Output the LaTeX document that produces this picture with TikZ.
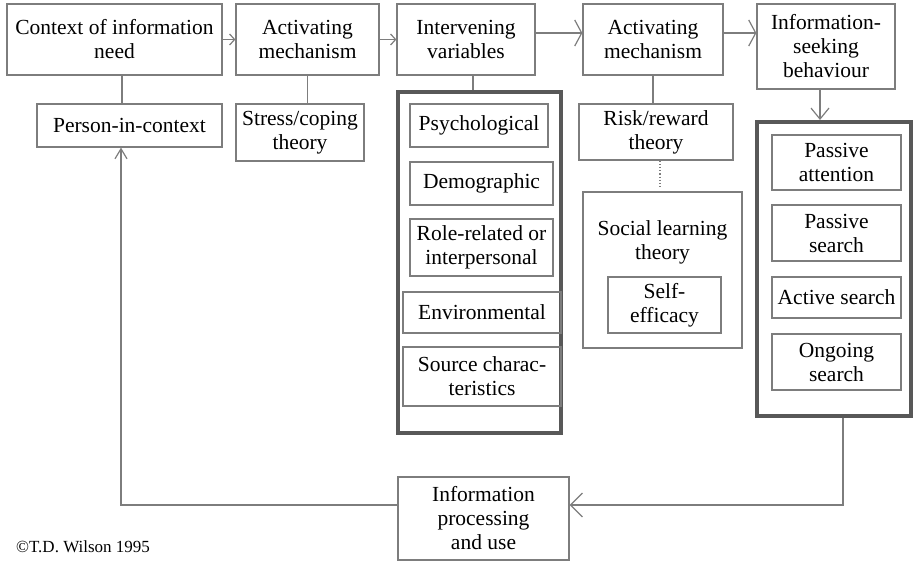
\documentclass[tikz,border=0pt]{standalone}
\usepackage{fontspec}
\setmainfont{Liberation Serif}
\usetikzlibrary{arrows.meta,positioning,calc}
\definecolor{boxline}{RGB}{125,125,125}
\definecolor{grpline}{RGB}{88,88,88}

\begin{document}
\begin{tikzpicture}[
  x=1pt, y=-1pt,
  font=\fontsize{21.5}{24}\selectfont,
  sz/.style 2 args={minimum width=#1pt, minimum height=#2pt},
  box/.style={draw=boxline, line width=1.2pt, align=center, inner sep=1pt},
  group/.style={draw=grpline, line width=4pt, inner sep=0pt},
  link/.style={draw=boxline, line width=1.2pt},
  arrow/.style={link, -{Straight Barb[length=5pt, width=11pt]}},
  wide/.style={link, -{Straight Barb[length=7pt, width=26pt]}}
]
\useasboundingbox (0,0) rectangle (915,561);

% top row
\node[box, sz={215}{71}] (ctx) at (114.5,39.5) {Context of information\\need};
\node[box, sz={143}{71}] (act1) at (307.5,39.5) {Activating\\mechanism};
\node[box, sz={138}{71}] (intv) at (466,39.5) {Intervening\\variables};
\node[box, sz={140}{71}] (act2) at (653,39.5) {Activating\\mechanism};
\node[box, sz={138}{85}] (seek) at (826,46.5) {Information-\\seeking\\behaviour};

% second row
\node[box, sz={185}{43}] (pic) at (129.5,125.5) {Person-in-context};
\node[box, sz={128}{57}] (stress) at (300,132.5) {Stress/coping\\theory};
\node[box, sz={154}{56}] (risk) at (656,132) {Risk/reward\\theory};

% intervening variables
\node[group, sz={163}{341}] (vars) at (479.5,262.5) {};
\node[box, sz={138}{43}] (psych) at (479,125.5) {Psychological};
\node[box, sz={143}{43}] (demo) at (481.5,183.5) {Demographic};
\node[box, sz={143}{57}] (role) at (481.5,247.5) {Role-related or\\interpersonal};
\node[box, sz={158}{41}] (env) at (482,312.5) {Environmental};
\node[box, sz={158}{59}] (src) at (482,376.5) {Source charac-\\teristics};

% social learning
\node[box, sz={159}{156}] (social) at (662.5,270) {};
\node[align=center] (sltheory) at (662.5,242) {Social learning\\theory};
\node[box, sz={113}{56}] (self) at (664.5,305) {Self-\\efficacy};

% search modes
\node[group, sz={154}{294}] (modes) at (834,269) {};
\node[box, sz={129}{55}] (pasatt) at (836.5,162.5) {Passive\\attention};
\node[box, sz={129}{56}] (passrch) at (836.5,233) {Passive\\search};
\node[box, sz={129}{41}] (actsrch) at (836.5,297.5) {Active search};
\node[box, sz={129}{56}] (ongsrch) at (836.5,362) {Ongoing\\search};

% bottom
\node[box, sz={171}{83}] (info) at (483.5,518.5) {Information\\processing\\and use};
\node[font=\fontsize{17}{20}\selectfont, anchor=west, inner sep=0pt] (copy) at (16,547) {\textcopyright T.D. Wilson 1995};

% connectors
\draw[arrow] (ctx.east) -- (act1.west);
\draw[arrow] (act1.east) -- (intv.west);
\draw[wide] ([yshift=6.5pt]intv.east) -- ([yshift=6.5pt]act2.west);
\draw[wide] ([yshift=6.5pt]act2.east) -- ([yshift=13.5pt]seek.west);
\draw[link] ([xshift=7.5pt]ctx.south) -- ([xshift=-7.5pt]pic.north);
\draw[link] (act1.south) -- ([xshift=7.5pt]stress.north);
\draw[link] ([xshift=7pt]intv.south) -- ([xshift=-6.5pt]vars.north);
\draw[link] (act2.south) -- ([xshift=-3pt]risk.north);
\draw[link, dotted] ([xshift=4pt]risk.south) -- ([xshift=-2.5pt, yshift=5pt]social.north);
\draw[link, -{Straight Barb[length=11pt, width=18pt]}] ([xshift=-6pt]seek.south) -- ([xshift=-14pt]modes.north);
\draw[link, -{Straight Barb[length=12pt, width=24pt]}] ([xshift=9pt]modes.south) |- ([yshift=13.5pt]info.east);
\draw[link, -{Straight Barb[length=10pt, width=12pt]}] ([yshift=13.5pt]info.west) -| ([xshift=-8.5pt]pic.south);

\end{tikzpicture}
\end{document}
